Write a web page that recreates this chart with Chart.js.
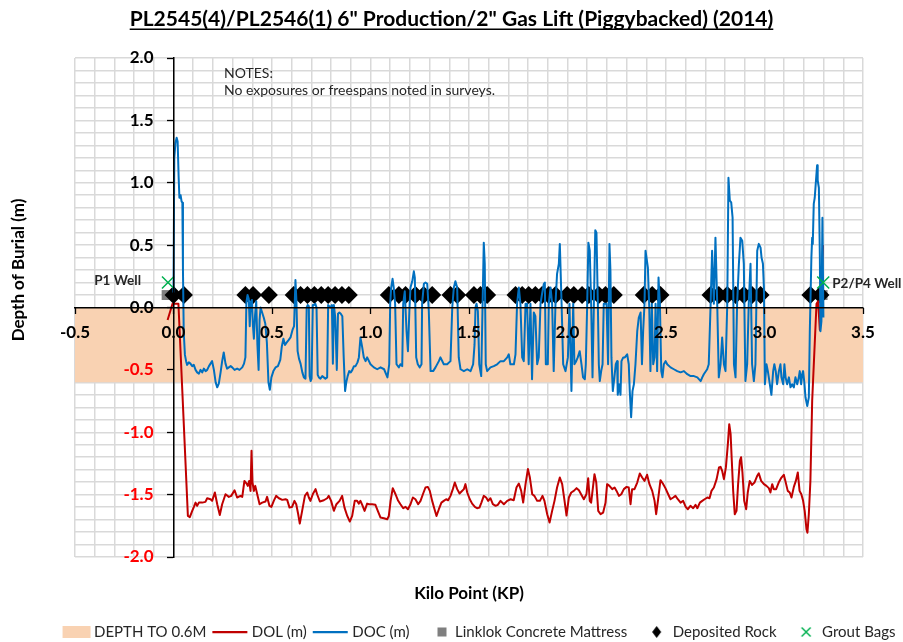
<!DOCTYPE html>
<html>
<head>
<meta charset="utf-8">
<title>Depth of Burial</title>
<script src="https://cdn.jsdelivr.net/npm/chart.js@4.4.1/dist/chart.umd.min.js"></script>
<style>
  html, body { margin: 0; padding: 0; background: #fff; }
  #wrap { width: 903px; height: 642px; }
</style>
</head>
<body>
<div id="wrap"><canvas id="burial" width="903" height="642"></canvas></div>
<script>
const FONT = 'Lato, "Open Sans", "DejaVu Sans", sans-serif';

const titleText = 'PL2545(4)/PL2546(1) 6" Production/2" Gas Lift (Piggybacked) (2014)';
const notes = ['NOTES:', 'No exposures or freespans noted in surveys.'];
const seriesNames = ['DEPTH TO 0.6M', 'DOL (m)', 'DOC (m)', 'Linklok Concrete Mattress', 'Deposited Rock', 'Grout Bags'];

// shaded band, 0 to -0.6 m
const bandKp = [-0.5, 3.5];
const bandDepth = [-0.6, -0.6];

// depth of lowering [kp, m]
const dolPoints = [
  [-0.03, -0.1], [-0.005, 0.03], [0.025, 0.03], [0.073, -1.67], [0.083, -1.68], [0.095, -1.63],
  [0.103, -1.6], [0.112, -1.564], [0.12, -1.59], [0.129, -1.564], [0.146, -1.564], [0.162, -1.558],
  [0.171, -1.529], [0.188, -1.537], [0.196, -1.55], [0.21, -1.483], [0.222, -1.577], [0.235, -1.663],
  [0.247, -1.577], [0.264, -1.497], [0.281, -1.518], [0.293, -1.51], [0.31, -1.465], [0.323, -1.523],
  [0.34, -1.51], [0.349, -1.518], [0.36, -1.39], [0.371, -1.411], [0.377, -1.43], [0.384, -1.39],
  [0.391, -1.47], [0.396, -1.149], [0.401, -1.403], [0.408, -1.47], [0.415, -1.43], [0.425, -1.497],
  [0.437, -1.577], [0.45, -1.564], [0.467, -1.555], [0.475, -1.518], [0.487, -1.59], [0.497, -1.598],
  [0.509, -1.55], [0.521, -1.51], [0.535, -1.529], [0.552, -1.542], [0.569, -1.537], [0.577, -1.542],
  [0.589, -1.604], [0.602, -1.598], [0.614, -1.55], [0.623, -1.577], [0.633, -1.657], [0.641, -1.732],
  [0.653, -1.63], [0.667, -1.51], [0.679, -1.483], [0.687, -1.523], [0.695, -1.55], [0.707, -1.497],
  [0.721, -1.456], [0.729, -1.497], [0.743, -1.555], [0.763, -1.545], [0.78, -1.529], [0.788, -1.51],
  [0.8, -1.55], [0.814, -1.63], [0.827, -1.577], [0.843, -1.55], [0.856, -1.51], [0.868, -1.604],
  [0.882, -1.671], [0.895, -1.716], [0.907, -1.671], [0.92, -1.55], [0.932, -1.55], [0.941, -1.572],
  [0.949, -1.55], [0.958, -1.582], [0.97, -1.63], [0.983, -1.572], [0.992, -1.577], [1.008, -1.577],
  [1.025, -1.582], [1.037, -1.63], [1.051, -1.684], [1.068, -1.689], [1.085, -1.697], [1.093, -1.671],
  [1.102, -1.55], [1.113, -1.448], [1.127, -1.497], [1.139, -1.545], [1.152, -1.577], [1.166, -1.609],
  [1.178, -1.598], [1.19, -1.617], [1.203, -1.577], [1.215, -1.523], [1.228, -1.537], [1.242, -1.577],
  [1.254, -1.55], [1.266, -1.497], [1.279, -1.443], [1.291, -1.438], [1.301, -1.47], [1.313, -1.55],
  [1.325, -1.617], [1.335, -1.671], [1.347, -1.617], [1.36, -1.564], [1.372, -1.55], [1.384, -1.537],
  [1.394, -1.545], [1.406, -1.51], [1.418, -1.456], [1.428, -1.403], [1.44, -1.456], [1.452, -1.491],
  [1.462, -1.475], [1.474, -1.456], [1.482, -1.416], [1.491, -1.483], [1.504, -1.537], [1.516, -1.572],
  [1.53, -1.598], [1.541, -1.609], [1.553, -1.604], [1.563, -1.564], [1.575, -1.51], [1.587, -1.523],
  [1.597, -1.55], [1.609, -1.529], [1.621, -1.577], [1.635, -1.59], [1.646, -1.582], [1.66, -1.55],
  [1.677, -1.577], [1.694, -1.55], [1.711, -1.537], [1.727, -1.545], [1.741, -1.443], [1.753, -1.411],
  [1.765, -1.47], [1.775, -1.564], [1.787, -1.416], [1.799, -1.295], [1.809, -1.363], [1.821, -1.497],
  [1.832, -1.51], [1.846, -1.55], [1.86, -1.55], [1.873, -1.51], [1.883, -1.55], [1.897, -1.657],
  [1.909, -1.724], [1.922, -1.63], [1.934, -1.55], [1.947, -1.443], [1.961, -1.363], [1.973, -1.416],
  [1.985, -1.55], [1.995, -1.668], [2.007, -1.523], [2.019, -1.483], [2.032, -1.47], [2.046, -1.448],
  [2.058, -1.465], [2.069, -1.497], [2.083, -1.537], [2.096, -1.497], [2.105, -1.368], [2.113, -1.55],
  [2.12, -1.564], [2.129, -1.443], [2.137, -1.336], [2.146, -1.403], [2.156, -1.63], [2.168, -1.657],
  [2.181, -1.644], [2.193, -1.564], [2.201, -1.416], [2.213, -1.43], [2.227, -1.456], [2.239, -1.443],
  [2.249, -1.47], [2.261, -1.51], [2.273, -1.497], [2.286, -1.456], [2.3, -1.438], [2.311, -1.443],
  [2.32, -1.577], [2.328, -1.456], [2.34, -1.456], [2.354, -1.403], [2.367, -1.33], [2.379, -1.363],
  [2.391, -1.39], [2.404, -1.341], [2.416, -1.416], [2.43, -1.47], [2.442, -1.55], [2.45, -1.657],
  [2.459, -1.55], [2.472, -1.384], [2.484, -1.411], [2.497, -1.448], [2.511, -1.497], [2.523, -1.537],
  [2.537, -1.523], [2.548, -1.51], [2.56, -1.537], [2.574, -1.564], [2.587, -1.55], [2.6, -1.598],
  [2.611, -1.617], [2.624, -1.59], [2.638, -1.609], [2.65, -1.582], [2.659, -1.609], [2.672, -1.564],
  [2.684, -1.55], [2.696, -1.537], [2.71, -1.523], [2.721, -1.529], [2.731, -1.47], [2.743, -1.443],
  [2.757, -1.376], [2.769, -1.282], [2.777, -1.277], [2.785, -1.309], [2.794, -1.376], [2.804, -1.282],
  [2.814, -1.095], [2.821, -0.935], [2.828, -1.015], [2.834, -1.229], [2.841, -1.47], [2.849, -1.657],
  [2.858, -1.63], [2.866, -1.416], [2.875, -1.229], [2.881, -1.2], [2.888, -1.322], [2.897, -1.55],
  [2.907, -1.617], [2.915, -1.483], [2.925, -1.39], [2.937, -1.422], [2.949, -1.403], [2.963, -1.349],
  [2.971, -1.33], [2.983, -1.39], [2.997, -1.416], [3.01, -1.43], [3.022, -1.448], [3.03, -1.483],
  [3.039, -1.416], [3.047, -1.456], [3.059, -1.456], [3.072, -1.403], [3.084, -1.368], [3.098, -1.341],
  [3.106, -1.39], [3.118, -1.47], [3.128, -1.483], [3.137, -1.523], [3.149, -1.438], [3.159, -1.39],
  [3.169, -1.322], [3.178, -1.47], [3.187, -1.497], [3.196, -1.55], [3.204, -1.63], [3.213, -1.777],
  [3.218, -1.805], [3.225, -1.657], [3.233, -1.39], [3.242, -0.75], [3.264, 0.03], [3.272, 0.05],
  [3.281, -0.18], [3.297, 0.5]
];

// depth of cover [kp, m]
const docPoints = [
  [0.0, 0.12], [0.004, 1.2], [0.01, 1.32], [0.016, 1.36], [0.021, 1.33], [0.026, 1.05], [0.03, 0.88],
  [0.036, 0.9], [0.041, 0.85], [0.045, 0.84], [0.048, 0.3], [0.052, -0.2], [0.058, -0.38], [0.064, -0.43],
  [0.069, -0.46], [0.078, -0.44], [0.086, -0.45], [0.095, -0.47], [0.103, -0.46], [0.112, -0.5],
  [0.12, -0.52], [0.129, -0.53], [0.137, -0.5], [0.146, -0.52], [0.154, -0.49], [0.163, -0.51],
  [0.171, -0.5], [0.18, -0.47], [0.188, -0.45], [0.196, -0.43], [0.205, -0.5], [0.214, -0.6],
  [0.222, -0.64], [0.23, -0.61], [0.239, -0.52], [0.247, -0.43], [0.255, -0.36], [0.264, -0.45],
  [0.272, -0.49], [0.281, -0.48], [0.29, -0.47], [0.298, -0.48], [0.31, -0.5], [0.323, -0.49],
  [0.335, -0.5], [0.349, -0.48], [0.358, -0.45], [0.365, -0.4], [0.37, 0.04], [0.376, 0.1],
  [0.382, 0.07], [0.387, -0.15], [0.392, 0.04], [0.398, 0.06], [0.403, -0.14], [0.408, -0.25],
  [0.414, -0.06], [0.42, 0.05], [0.426, -0.3], [0.432, -0.5], [0.437, -0.1], [0.442, 0.0],
  [0.45, -0.04], [0.458, -0.08], [0.466, -0.13], [0.474, -0.28], [0.482, -0.6], [0.489, -0.66],
  [0.497, -0.56], [0.507, -0.51], [0.518, -0.48], [0.53, -0.47], [0.542, -0.42], [0.55, -0.31],
  [0.558, -0.25], [0.566, -0.3], [0.575, -0.28], [0.585, -0.26], [0.594, -0.24], [0.604, -0.18],
  [0.612, -0.15], [0.619, 0.22], [0.624, 0.05], [0.63, -0.35], [0.637, -0.41], [0.645, -0.45],
  [0.654, -0.52], [0.662, -0.56], [0.67, -0.57], [0.676, 0.0], [0.681, 0.02], [0.687, 0.01],
  [0.691, -0.55], [0.696, -0.59], [0.701, -0.57], [0.707, 0.02], [0.713, 0.02], [0.72, 0.03],
  [0.726, 0.0], [0.732, -0.54], [0.738, -0.56], [0.746, -0.57], [0.755, -0.55], [0.763, -0.56],
  [0.771, -0.57], [0.78, -0.56], [0.785, 0.02], [0.79, 0.01], [0.797, 0.0], [0.804, 0.02],
  [0.809, -0.45], [0.814, 0.02], [0.821, -0.08], [0.829, -0.5], [0.835, -0.05], [0.842, -0.04],
  [0.849, -0.05], [0.857, -0.07], [0.864, -0.4], [0.871, -0.67], [0.877, -0.6], [0.884, -0.55],
  [0.892, -0.51], [0.9, -0.52], [0.908, -0.5], [0.916, -0.47], [0.924, -0.47], [0.934, -0.44],
  [0.941, -0.4], [0.949, -0.24], [0.958, -0.32], [0.966, -0.4], [0.975, -0.43], [0.983, -0.4],
  [1.0, -0.455], [1.017, -0.48], [1.034, -0.495], [1.051, -0.48], [1.069, -0.495], [1.086, -0.56],
  [1.095, -0.455], [1.1, 0.03], [1.105, 0.16], [1.112, 0.23], [1.118, 0.16], [1.125, 0.03],
  [1.132, -0.455], [1.144, -0.48], [1.152, -0.455], [1.161, -0.47], [1.166, 0.03], [1.174, 0.13],
  [1.183, -0.19], [1.19, -0.35], [1.198, 0.0], [1.203, 0.16], [1.212, 0.21], [1.22, 0.29],
  [1.225, 0.24], [1.232, -0.4], [1.24, -0.455], [1.25, -0.48], [1.259, -0.455], [1.262, 0.03],
  [1.271, 0.19], [1.279, 0.2], [1.288, 0.19], [1.296, -0.03], [1.305, -0.51], [1.318, -0.51],
  [1.33, -0.48], [1.347, -0.43], [1.355, -0.4], [1.372, -0.455], [1.389, -0.455], [1.406, -0.43],
  [1.415, 0.0], [1.423, 0.16], [1.431, 0.21], [1.44, 0.16], [1.448, -0.4], [1.457, -0.495],
  [1.474, -0.51], [1.491, -0.495], [1.508, -0.51], [1.521, -0.455], [1.528, -0.3], [1.533, 0.0],
  [1.538, 0.03], [1.545, -0.03], [1.552, -0.455], [1.562, -0.55], [1.569, 0.03], [1.575, 0.52],
  [1.58, 0.35], [1.585, -0.455], [1.592, -0.51], [1.609, -0.48], [1.626, -0.47], [1.643, -0.455],
  [1.66, -0.43], [1.677, -0.43], [1.694, -0.4], [1.702, -0.375], [1.71, -0.455], [1.728, -0.455],
  [1.736, -0.375], [1.744, 0.03], [1.753, 0.16], [1.761, 0.03], [1.77, -0.4], [1.778, -0.43],
  [1.787, 0.03], [1.795, 0.03], [1.803, -0.455], [1.812, 0.03], [1.82, -0.575], [1.829, -0.04],
  [1.837, -0.07], [1.846, -0.455], [1.854, -0.4], [1.863, 0.03], [1.871, 0.11], [1.88, 0.19],
  [1.885, 0.2], [1.89, -0.455], [1.9, -0.455], [1.905, 0.03], [1.914, 0.16], [1.922, 0.03],
  [1.93, -0.51], [1.939, 0.03], [1.947, 0.27], [1.956, 0.35], [1.961, 0.51], [1.97, 0.03],
  [1.978, -0.455], [1.99, -0.51], [2.002, -0.4], [2.01, 0.03], [2.02, -0.67], [2.029, 0.03],
  [2.035, -0.455], [2.044, -0.43], [2.052, -0.4], [2.062, -0.35], [2.071, -0.455], [2.079, -0.56],
  [2.088, -0.575], [2.093, -0.455], [2.1, 0.03], [2.106, 0.52], [2.113, 0.455], [2.12, 0.03],
  [2.127, -0.56], [2.134, 0.03], [2.141, 0.62], [2.147, 0.6], [2.154, 0.03], [2.159, -0.455],
  [2.164, -0.59], [2.171, -0.51], [2.178, -0.455], [2.184, 0.03], [2.198, 0.03], [2.206, -0.455],
  [2.213, 0.51], [2.218, 0.29], [2.223, -0.4], [2.23, -0.67], [2.238, -0.56], [2.245, -0.455],
  [2.252, -0.43], [2.255, -0.7], [2.262, -0.615], [2.269, -0.7], [2.274, -0.43], [2.283, -0.4],
  [2.291, -0.4], [2.303, -0.375], [2.311, -0.455], [2.316, -0.67], [2.323, -0.88], [2.33, -0.67],
  [2.337, -0.615], [2.345, -0.455], [2.354, -0.19], [2.362, -0.08], [2.371, -0.04], [2.378, -0.455],
  [2.384, -0.19], [2.391, 0.03], [2.396, 0.455], [2.401, 0.4], [2.408, 0.32], [2.415, 0.0],
  [2.421, -0.51], [2.428, 0.03], [2.435, -0.455], [2.442, -0.4], [2.447, 0.03], [2.455, -0.51],
  [2.462, 0.24], [2.469, 0.03], [2.476, -0.51], [2.482, -0.56], [2.489, -0.455], [2.498, -0.43],
  [2.506, -0.455], [2.523, -0.48], [2.54, -0.495], [2.557, -0.51], [2.574, -0.52], [2.591, -0.51],
  [2.608, -0.535], [2.625, -0.55], [2.642, -0.55], [2.659, -0.56], [2.676, -0.59], [2.684, -0.56],
  [2.692, -0.535], [2.709, -0.495], [2.717, -0.455], [2.726, 0.0], [2.734, 0.455], [2.743, 0.03],
  [2.751, 0.56], [2.76, 0.03], [2.768, -0.56], [2.777, -0.455], [2.785, -0.24], [2.794, -0.455],
  [2.802, -0.51], [2.811, 0.03], [2.817, 1.04], [2.824, 0.857], [2.831, 0.843], [2.838, 0.72],
  [2.845, -0.455], [2.853, -0.56], [2.861, 0.03], [2.87, 0.35], [2.878, 0.56], [2.887, 0.535],
  [2.895, 0.35], [2.903, -0.59], [2.912, -0.455], [2.92, 0.03], [2.929, 0.35], [2.937, -0.455],
  [2.946, -0.59], [2.954, -0.455], [2.963, 0.455], [2.971, 0.51], [2.98, 0.48], [2.985, 0.4],
  [2.992, 0.35], [2.997, 0.16], [3.002, -0.615], [3.01, -0.455], [3.017, -0.51], [3.027, -0.615],
  [3.035, -0.7], [3.044, -0.51], [3.05, -0.455], [3.057, -0.51], [3.064, -0.615], [3.073, -0.51],
  [3.081, -0.455], [3.086, -0.56], [3.095, -0.615], [3.101, -0.455], [3.107, -0.56], [3.115, -0.615],
  [3.124, -0.56], [3.132, -0.64], [3.14, -0.615], [3.149, -0.64], [3.157, -0.56], [3.166, -0.615],
  [3.174, -0.56], [3.179, -0.51], [3.186, -0.615], [3.191, -0.535], [3.196, -0.51], [3.203, -0.615],
  [3.208, -0.72], [3.217, -0.79], [3.225, -0.72], [3.23, -0.19], [3.233, 0.03], [3.238, 0.4],
  [3.242, 0.56], [3.245, 0.51], [3.25, 0.83], [3.255, 0.88], [3.26, 0.99], [3.267, 1.14],
  [3.27, 1.02], [3.276, 0.96], [3.281, 0.4], [3.284, -0.19], [3.289, -0.11], [3.294, 0.72],
  [3.299, -0.08]
];

const mattressKp = [-0.035, 3.295];
const mattressDepth = [0.1, 0.1];

const rockKp = [
  0.0, 0.053, 0.365, 0.404, 0.484, 0.61, 0.645, 0.68, 0.715, 0.75, 0.785, 0.82, 0.855, 0.89,
  1.093, 1.144, 1.178, 1.228, 1.27, 1.313, 1.406, 1.44, 1.525, 1.558, 1.592,
  1.736, 1.77, 1.803, 1.837, 1.871, 1.905, 1.939, 1.998, 2.032, 2.074, 2.108, 2.159, 2.193, 2.235,
  2.387, 2.43, 2.472, 2.726, 2.768, 2.811, 2.853, 2.895, 2.937, 2.98, 3.233, 3.284
];
const rockDepth = [
  0.1, 0.1, 0.1, 0.1, 0.1, 0.1, 0.1, 0.1, 0.1, 0.1, 0.1, 0.1, 0.1, 0.1,
  0.1, 0.1, 0.1, 0.1, 0.1, 0.1, 0.1, 0.1, 0.1, 0.1, 0.1,
  0.1, 0.1, 0.1, 0.1, 0.1, 0.1, 0.1, 0.1, 0.1, 0.1, 0.1, 0.1, 0.1, 0.1,
  0.1, 0.1, 0.1, 0.1, 0.1, 0.1, 0.1, 0.1, 0.1, 0.1, 0.1, 0.1
];

const groutKp = [-0.028, 3.298];
const groutDepth = [0.2, 0.2];
const groutNames = ['P1 Well', 'P2/P4 Well'];

const xMin = -0.5, xMax = 3.5, yMin = -2, yMax = 2;
// y labels sit a little left of the KP 0 axis line
const yLabelKp = -0.1015;

function toXY(xs, ys) {
  return xs.map((x, i) => ({ x: x, y: ys[i] }));
}
function pairs(list) {
  return list.map((p) => ({ x: p[0], y: p[1] }));
}
function halfStepLabel(v) {
  const t = Math.round(v * 10);
  return t % 5 === 0 ? (t / 10).toFixed(1) : "";
}

// little legend symbols
function icon(draw) {
  const c = document.createElement("canvas");
  c.width = 44;
  c.height = 16;
  draw(c.getContext("2d"));
  return c;
}
const legendIcons = [
  icon((g) => { g.fillStyle = "#F9D2B2"; g.fillRect(15, 2, 28, 12); }),
  icon((g) => { g.strokeStyle = "#C00000"; g.lineWidth = 2.25; g.beginPath(); g.moveTo(7, 8); g.lineTo(42, 8); g.stroke(); }),
  icon((g) => { g.strokeStyle = "#0070C0"; g.lineWidth = 2.25; g.beginPath(); g.moveTo(7, 8); g.lineTo(42, 8); g.stroke(); }),
  icon((g) => { g.fillStyle = "#7F7F7F"; g.fillRect(29, 3.5, 9, 9); }),
  icon((g) => {
    g.fillStyle = "#000";
    g.beginPath(); g.moveTo(30.5, 2); g.lineTo(35, 8); g.lineTo(30.5, 14); g.lineTo(26, 8); g.closePath(); g.fill();
  }),
  icon((g) => {
    g.strokeStyle = "#00B050"; g.lineWidth = 1.5; g.beginPath();
    g.moveTo(26, 3.5); g.lineTo(35, 12.5); g.moveTo(35, 3.5); g.lineTo(26, 12.5); g.stroke();
  }),
];

const textBits = {
  id: "textBits",
  afterLayout(chart) {
    // title centred on the whole canvas, legend keeps its own offset
    chart.titleBlock.left = 0;
    chart.titleBlock.right = chart.width;
  },
  afterDatasetsDraw(chart) {
    const meta = chart.getDatasetMeta(5);
    const ctx = chart.ctx;
    ctx.save();
    ctx.font = "bold 13.5px " + FONT;
    ctx.fillStyle = "#262626";
    ctx.textBaseline = "middle";
    meta.data.forEach((pt, i) => {
      if (i === 0) {
        ctx.textAlign = "right";
        ctx.fillText(groutNames[i], pt.x - 27, pt.y - 2);
      } else {
        ctx.textAlign = "left";
        ctx.fillText(groutNames[i], pt.x + 9, pt.y + 1);
      }
    });
    ctx.restore();
  },
  afterDraw(chart) {
    const { ctx, chartArea } = chart;
    ctx.save();
    // underline under the title
    const tb = chart.titleBlock;
    ctx.font = "bold 21px " + FONT;
    const w = ctx.measureText(titleText).width;
    const cx = (tb.left + tb.right) / 2;
    ctx.fillStyle = "#000";
    ctx.fillRect(cx - w / 2, 28.5, w, 1.5);

    // notes box text
    ctx.fillStyle = "#262626";
    ctx.textAlign = "left";
    ctx.textBaseline = "middle";
    ctx.font = "14px " + FONT;
    ctx.fillText(notes[0], chartArea.left + 149, chartArea.top + 15);
    ctx.fillText(notes[1], chartArea.left + 149, chartArea.top + 32);

    // y axis title
    ctx.translate(19, 270);
    ctx.rotate(-Math.PI / 2);
    ctx.textAlign = "center";
    ctx.fillStyle = "#000";
    ctx.font = "bold 17px " + FONT;
    ctx.fillText("Depth of Burial (m)", 0, 0);
    ctx.restore();
  },
};

const ctx = document.getElementById("burial").getContext("2d");
const burialChart = new Chart(ctx, {
  type: "line",
  data: {
    datasets: [
      {
        label: seriesNames[0],
        data: toXY(bandKp, bandDepth),
        backgroundColor: "#F9D2B2",
        borderWidth: 0,
        pointRadius: 0,
        fill: "origin",
        order: 6,
      },
      {
        label: seriesNames[1],
        data: pairs(dolPoints),
        borderColor: "#C00000",
        backgroundColor: "#C00000",
        borderWidth: 2,
        pointRadius: 0,
        fill: false,
        order: 3,
      },
      {
        label: seriesNames[2],
        data: pairs(docPoints),
        borderColor: "#0070C0",
        backgroundColor: "#0070C0",
        borderWidth: 2,
        pointRadius: 0,
        fill: false,
        order: 2,
      },
      {
        label: seriesNames[3],
        data: toXY(mattressKp, mattressDepth),
        showLine: false,
        pointStyle: "rect",
        pointRadius: 7,
        pointBackgroundColor: "#7F7F7F",
        pointBorderColor: "#7F7F7F",
        pointBorderWidth: 0,
        backgroundColor: "#7F7F7F",
        borderColor: "#7F7F7F",
        order: 5,
      },
      {
        label: seriesNames[4],
        data: toXY(rockKp, rockDepth),
        showLine: false,
        pointStyle: "rectRot",
        pointRadius: 9,
        pointBackgroundColor: "#000",
        pointBorderColor: "#000",
        pointBorderWidth: 0,
        backgroundColor: "#000",
        borderColor: "#000",
        order: 4,
      },
      {
        label: seriesNames[5],
        data: toXY(groutKp, groutDepth),
        showLine: false,
        pointStyle: "crossRot",
        pointRadius: 8.5,
        pointBorderColor: "#00B050",
        pointBorderWidth: 1.5,
        borderColor: "#00B050",
        backgroundColor: "#00B050",
        order: 1,
      },
    ],
  },
  options: {
    responsive: false,
    animation: false,
    devicePixelRatio: 1,
    events: [],
    elements: {
      line: { tension: 0, borderJoinStyle: "round" },
    },
    layout: { padding: { top: 0, left: 45, right: 0, bottom: -7.5 } },
    plugins: {
      tooltip: { enabled: false },
      title: {
        display: true,
        text: titleText,
        color: "#000",
        font: { family: FONT, size: 21, weight: "bold" },
        padding: { top: 6.4, bottom: 26.4 },
      },
      subtitle: {
        display: true,
        text: "Kilo Point (KP)",
        position: "bottom",
        fullSize: false,
        weight: 500,
        color: "#000",
        font: { family: FONT, size: 17, weight: "bold" },
        padding: { top: 26.6, bottom: 16.5 },
      },
      legend: {
        display: true,
        position: "bottom",
        labels: {
          usePointStyle: true,
          pointStyleWidth: 34,
          padding: 4,
          color: "#262626",
          font: { family: FONT, size: 15 },
          sort: (a, b) => a.datasetIndex - b.datasetIndex,
          generateLabels(chart) {
            const items = Chart.defaults.plugins.legend.labels.generateLabels(chart);
            items.forEach((it) => { it.pointStyle = legendIcons[it.datasetIndex]; });
            return items;
          },
        },
      },
    },
    scales: {
      x: {
        type: "linear",
        position: { y: 0 },
        min: xMin,
        max: xMax,
        ticks: {
          stepSize: 0.1,
          autoSkip: false,
          maxRotation: 0,
          padding: 15,
          color: "#000",
          font: { family: FONT, size: 17, weight: "bold" },
          callback: halfStepLabel,
          z: 1,
        },
        grid: { color: "#D9D9D9", lineWidth: 1.5, drawTicks: false },
        border: { display: true, color: "#000", width: 1.5, z: 1 },
      },
      // gridlines and labels only; the axis line is on yt
      y: {
        type: "linear",
        position: { x: yLabelKp },
        min: yMin,
        max: yMax,
        ticks: {
          stepSize: 0.1,
          autoSkip: false,
          color: (c) => (c.tick && c.tick.value < -0.001 ? "#FF0000" : "#000"),
          font: { family: FONT, size: 17, weight: "bold" },
          callback: halfStepLabel,
          z: 1,
        },
        grid: { color: "#D9D9D9", lineWidth: 1.5, drawTicks: false },
        border: { display: false },
      },
      // tick marks at 0.5 steps, drawn above the shaded band
      xt: {
        type: "linear",
        axis: "x",
        position: { y: 0 },
        min: xMin,
        max: xMax,
        ticks: { stepSize: 0.5, display: false },
        grid: { drawOnChartArea: false, tickLength: 6, tickColor: "#000", tickWidth: 1.3, z: 1 },
        border: { display: false },
      },
      yt: {
        type: "linear",
        axis: "y",
        position: { x: 0 },
        min: yMin,
        max: yMax,
        ticks: { stepSize: 0.5, display: false },
        grid: { drawOnChartArea: false, tickLength: 6, tickColor: "#000", tickWidth: 1.3, z: 1 },
        border: { display: true, color: "#000", width: 1.5, z: 1 },
      },
      // empty side gutters so the plot sits where the original does
      padL: {
        type: "linear",
        axis: "y",
        position: "left",
        ticks: { display: false },
        grid: { display: false },
        border: { display: false },
        afterFit: (s) => { s.width = 30; },
      },
      padR: {
        type: "linear",
        axis: "y",
        position: "right",
        ticks: { display: false },
        grid: { display: false },
        border: { display: false },
        afterFit: (s) => { s.width = 40; },
      },
    },
  },
  plugins: [textBits],
});
</script>
</body>
</html>
